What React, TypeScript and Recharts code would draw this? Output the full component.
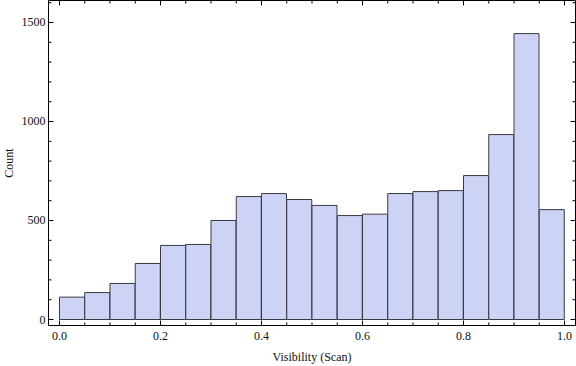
import React from "react";
import { ComposedChart, Bar, Line, XAxis, YAxis } from "recharts";

// Histogram bins (width 0.05) and counts
const binStarts = [0, 0.05, 0.1, 0.15, 0.2, 0.25, 0.3, 0.35, 0.4, 0.45, 0.5, 0.55, 0.6, 0.65, 0.7, 0.75, 0.8, 0.85, 0.9, 0.95];
const counts = [113, 136, 182, 283, 374, 379, 500, 621, 636, 606, 576, 525, 532, 636, 646, 651, 727, 934, 1444, 555];

const xMajorTicks = [0, 0.2, 0.4, 0.6, 0.8, 1.0];
const xMinorTicks = [0.05, 0.1, 0.15, 0.25, 0.3, 0.35, 0.45, 0.5, 0.55, 0.65, 0.7, 0.75, 0.85, 0.9, 0.95];
const yMajorTicks = [0, 500, 1000, 1500];
const yMinorTicks = [100, 200, 300, 400, 600, 700, 800, 900, 1100, 1200, 1300, 1400, 1600];

const xAllTicks = [...xMajorTicks, ...xMinorTicks].sort((a, b) => a - b);
const yAllTicks = [...yMajorTicks, ...yMinorTicks].sort((a, b) => a - b);

const data = binStarts.map((b, i) => ({ x: b + 0.025, count: counts[i] }));

const xPad = 11 / 505;
const xDomain = [-xPad, 1 + xPad];
const yDomain = [-30.3, 1611.1];

const FONT = "'Liberation Serif', 'DejaVu Serif', serif";
const isMajor = (v: number, list: number[]) => list.some((m) => Math.abs(m - v) < 1e-9);

const BottomTick = (props: any) => {
  const { x, y, payload } = props;
  const major = isMajor(payload.value, xMajorTicks);
  return (
    <g>
      <line x1={x} x2={x} y1={y} y2={y - (major ? 5 : 3)} stroke="#000" strokeWidth={1} />
      {major && (
        <text x={x} y={y + 14.5} textAnchor="middle" fontFamily={FONT} fontSize={12} fill="#111">
          {payload.value.toFixed(1)}
        </text>
      )}
    </g>
  );
};

const TopTick = (props: any) => {
  const { x, y, payload } = props;
  const major = isMajor(payload.value, xMajorTicks);
  return <line x1={x} x2={x} y1={y} y2={y + (major ? 5 : 3)} stroke="#000" strokeWidth={1} />;
};

const LeftTick = (props: any) => {
  const { x, y, payload } = props;
  const major = isMajor(payload.value, yMajorTicks);
  return (
    <g>
      <line x1={x} x2={x + (major ? 5 : 3)} y1={y} y2={y} stroke="#000" strokeWidth={1} />
      {major && (
        <text x={x - 3} y={y + 4} textAnchor="end" fontFamily={FONT} fontSize={12} fill="#111">
          {payload.value}
        </text>
      )}
    </g>
  );
};

const RightTick = (props: any) => {
  const { x, y, payload } = props;
  const major = isMajor(payload.value, yMajorTicks);
  return <line x1={x} x2={x - (major ? 5 : 3)} y1={y} y2={y} stroke="#000" strokeWidth={1} />;
};

const CountLabel = (props: any) => {
  const vb = props.viewBox || { x: 0, y: 0, width: 48, height: 325 };
  const cx = vb.x + 8.5;
  const cy = vb.y + vb.height / 2;
  return (
    <text x={cx} y={cy} transform={`rotate(-90 ${cx} ${cy})`} textAnchor="middle" dominantBaseline="central" fontFamily={FONT} fontSize={12} fill="#111">
      Count
    </text>
  );
};

const VisLabel = (props: any) => {
  const vb = props.viewBox || { x: 48, y: 325, width: 527, height: 40 };
  return (
    <text x={vb.x + vb.width / 2} y={vb.y + 35} textAnchor="middle" fontFamily={FONT} fontSize={12} fill="#111">
      Visibility (Scan)
    </text>
  );
};

const axisLine = { stroke: "#000", strokeWidth: 1 };

export default function App() {
  return (
    <div style={{ position: "absolute", left: 0, top: 0, background: "#fff" }}>
      <ComposedChart
        width={576}
        height={366}
        data={data}
        barCategoryGap={0}
        margin={{ top: 0, right: 0, bottom: 0, left: 0 }}
      >
        <XAxis
          xAxisId="num"
          dataKey="x"
          type="number"
          domain={xDomain}
          allowDataOverflow
          ticks={xAllTicks}
          interval={0}
          height={40.5}
          tickSize={0}
          tickMargin={0}
          tickLine={false}
          axisLine={axisLine}
          tick={<BottomTick />}
          label={<VisLabel />}
        />
        <XAxis
          xAxisId="top"
          orientation="top"
          dataKey="x"
          type="number"
          domain={xDomain}
          allowDataOverflow
          ticks={xAllTicks}
          interval={0}
          height={0.5}
          tickSize={0}
          tickMargin={0}
          tickLine={false}
          axisLine={axisLine}
          tick={<TopTick />}
        />
        <YAxis
          yAxisId="left"
          type="number"
          domain={yDomain}
          allowDataOverflow
          ticks={yAllTicks}
          interval={0}
          width={48.5}
          tickSize={0}
          tickMargin={0}
          tickLine={false}
          axisLine={axisLine}
          tick={<LeftTick />}
          label={<CountLabel />}
        />
        <YAxis
          yAxisId="right"
          orientation="right"
          type="number"
          domain={yDomain}
          allowDataOverflow
          ticks={yAllTicks}
          interval={0}
          width={0.5}
          tickSize={0}
          tickMargin={0}
          tickLine={false}
          axisLine={axisLine}
          tick={<RightTick />}
        />
        <Bar
          dataKey="count"
          xAxisId="num"
          yAxisId="left"
          fill="#CCD3F5"
          stroke="#3A3A44"
          strokeWidth={1}
          isAnimationActive={false}
        />
        {/* invisible series so the mirrored frame axes get rendered */}
        <Line
          dataKey="count"
          xAxisId="top"
          yAxisId="right"
          stroke="none"
          dot={false}
          activeDot={false}
          isAnimationActive={false}
        />
      </ComposedChart>
    </div>
  );
}
